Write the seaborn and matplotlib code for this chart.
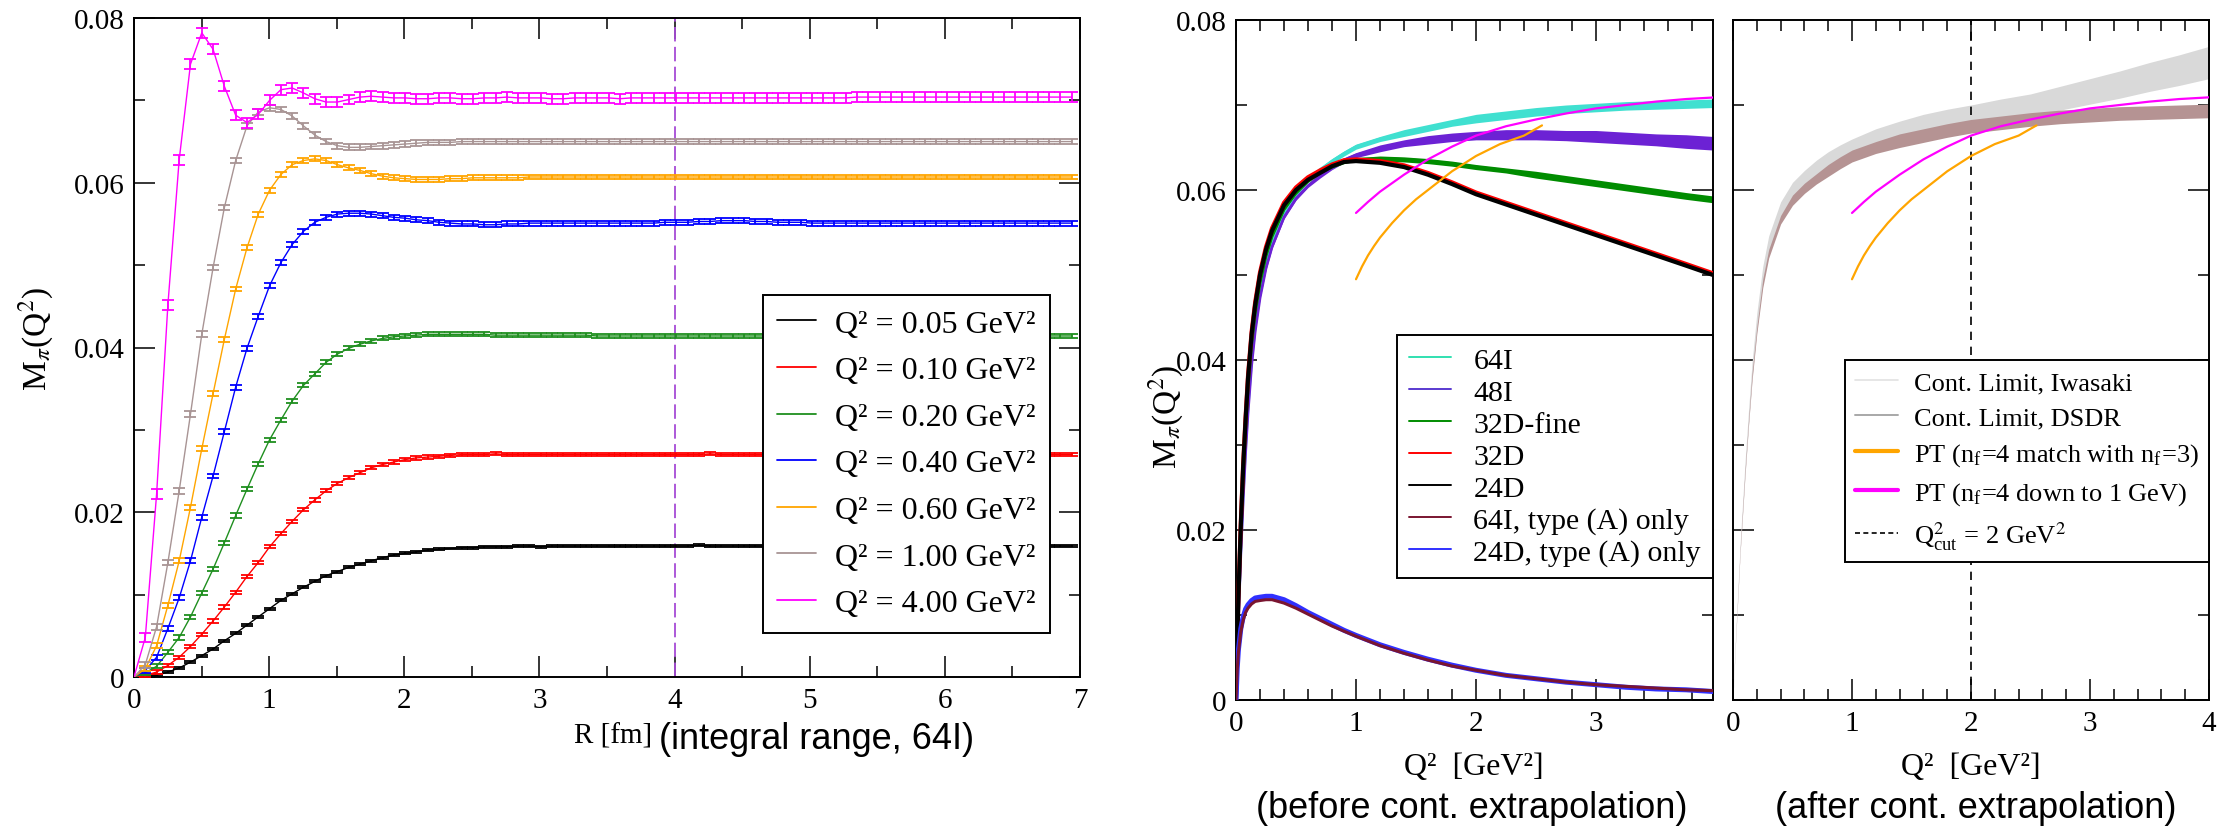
import numpy as np
import matplotlib
matplotlib.use("Agg")
import matplotlib.pyplot as plt
import matplotlib.font_manager as fm
from matplotlib.lines import Line2D
from matplotlib.ticker import MultipleLocator, FuncFormatter
import seaborn as sns

# ---------------------------------------------------------------------------
# Left panel: M_pi(Q^2) as a function of the integration cut-off R (64I)
# ---------------------------------------------------------------------------
LATTICE_SPACING_64I = 0.0836          # fm
R_FM = np.arange(84) * LATTICE_SPACING_64I
R_CUT = 4.0                           # fm, chosen integral range

LEFT_Q2 = ["0.05", "0.10", "0.20", "0.40", "0.60", "1.00", "4.00"]
LEFT_COLORS = ["#000000", "#ff0000", "#1f8f1f", "#0000ff", "#ffa500", "#a89494", "#ff00ff"]
LEFT_ERR = [0.00012, 0.0002, 0.00025, 0.0003, 0.0003, 0.00035, 0.0006]

M_Q005 = [0.0000, 0.0001, 0.0002, 0.0006, 0.0011, 0.0018, 0.0026, 0.0034, 0.0044, 0.0053, 0.0063, 0.0073,
          0.0083, 0.0093, 0.0101, 0.0109, 0.0116, 0.0123, 0.0128, 0.0133, 0.0137, 0.0141, 0.0145, 0.0148,
          0.0150, 0.0152, 0.0154, 0.0155, 0.0156, 0.0157, 0.0157, 0.0158, 0.0158, 0.0158, 0.0159, 0.0159,
          0.0158, 0.0159, 0.0159, 0.0159, 0.0159, 0.0159, 0.0159, 0.0159, 0.0159, 0.0159, 0.0159, 0.0159,
          0.0159, 0.0159, 0.0160, 0.0159, 0.0159, 0.0159, 0.0159, 0.0159, 0.0159, 0.0160, 0.0159, 0.0159,
          0.0159, 0.0159, 0.0159, 0.0159, 0.0159, 0.0159, 0.0159, 0.0159, 0.0159, 0.0159, 0.0159, 0.0159,
          0.0159, 0.0159, 0.0159, 0.0159, 0.0159, 0.0160, 0.0160, 0.0159, 0.0159, 0.0159, 0.0159, 0.0159]
M_Q010 = [0.0000, 0.0002, 0.0006, 0.0014, 0.0024, 0.0037, 0.0052, 0.0068, 0.0085, 0.0103, 0.0122, 0.0139,
          0.0158, 0.0174, 0.0189, 0.0203, 0.0215, 0.0226, 0.0235, 0.0242, 0.0248, 0.0254, 0.0258, 0.0261,
          0.0264, 0.0266, 0.0267, 0.0268, 0.0269, 0.0270, 0.0270, 0.0270, 0.0271, 0.0270, 0.0270, 0.0270,
          0.0270, 0.0270, 0.0270, 0.0270, 0.0270, 0.0270, 0.0270, 0.0270, 0.0270, 0.0270, 0.0270, 0.0270,
          0.0270, 0.0270, 0.0270, 0.0271, 0.0270, 0.0270, 0.0270, 0.0270, 0.0270, 0.0270, 0.0270, 0.0270,
          0.0270, 0.0270, 0.0270, 0.0270, 0.0270, 0.0270, 0.0270, 0.0270, 0.0270, 0.0270, 0.0270, 0.0270,
          0.0270, 0.0270, 0.0270, 0.0270, 0.0270, 0.0270, 0.0271, 0.0270, 0.0270, 0.0270, 0.0270, 0.0270]
M_Q020 = [0.0000, 0.0005, 0.0013, 0.0030, 0.0048, 0.0073, 0.0102, 0.0131, 0.0163, 0.0196, 0.0228, 0.0259,
          0.0288, 0.0312, 0.0335, 0.0354, 0.0368, 0.0382, 0.0392, 0.0399, 0.0404, 0.0408, 0.0411, 0.0413,
          0.0414, 0.0415, 0.0416, 0.0416, 0.0416, 0.0416, 0.0416, 0.0416, 0.0415, 0.0415, 0.0415, 0.0415,
          0.0415, 0.0415, 0.0415, 0.0415, 0.0415, 0.0414, 0.0414, 0.0414, 0.0414, 0.0414, 0.0414, 0.0414,
          0.0414, 0.0414, 0.0414, 0.0414, 0.0414, 0.0414, 0.0414, 0.0414, 0.0414, 0.0414, 0.0414, 0.0414,
          0.0414, 0.0414, 0.0414, 0.0414, 0.0414, 0.0414, 0.0414, 0.0414, 0.0414, 0.0414, 0.0414, 0.0414,
          0.0414, 0.0414, 0.0414, 0.0414, 0.0414, 0.0414, 0.0414, 0.0414, 0.0414, 0.0414, 0.0414, 0.0414]
M_Q040 = [0.0000, 0.0008, 0.0024, 0.0059, 0.0096, 0.0141, 0.0194, 0.0244, 0.0298, 0.0352, 0.0399, 0.0438,
          0.0475, 0.0503, 0.0525, 0.0541, 0.0552, 0.0558, 0.0562, 0.0563, 0.0563, 0.0562, 0.0560, 0.0558,
          0.0557, 0.0555, 0.0554, 0.0552, 0.0551, 0.0550, 0.0550, 0.0549, 0.0549, 0.0550, 0.0550, 0.0551,
          0.0551, 0.0551, 0.0551, 0.0551, 0.0551, 0.0551, 0.0551, 0.0551, 0.0551, 0.0551, 0.0551, 0.0552,
          0.0552, 0.0552, 0.0553, 0.0553, 0.0554, 0.0554, 0.0554, 0.0553, 0.0553, 0.0552, 0.0552, 0.0552,
          0.0551, 0.0551, 0.0551, 0.0551, 0.0551, 0.0551, 0.0551, 0.0551, 0.0551, 0.0551, 0.0551, 0.0551,
          0.0551, 0.0551, 0.0551, 0.0551, 0.0551, 0.0551, 0.0551, 0.0551, 0.0551, 0.0551, 0.0551, 0.0551]
M_Q060 = [0.0000, 0.0010, 0.0038, 0.0087, 0.0141, 0.0206, 0.0277, 0.0344, 0.0410, 0.0471, 0.0521, 0.0562,
          0.0591, 0.0610, 0.0622, 0.0627, 0.0629, 0.0627, 0.0622, 0.0618, 0.0615, 0.0611, 0.0608, 0.0606,
          0.0605, 0.0604, 0.0604, 0.0604, 0.0605, 0.0605, 0.0606, 0.0606, 0.0606, 0.0606, 0.0606, 0.0607,
          0.0607, 0.0607, 0.0607, 0.0607, 0.0607, 0.0607, 0.0607, 0.0607, 0.0607, 0.0607, 0.0607, 0.0607,
          0.0607, 0.0607, 0.0607, 0.0607, 0.0607, 0.0607, 0.0607, 0.0607, 0.0607, 0.0607, 0.0607, 0.0607,
          0.0607, 0.0607, 0.0607, 0.0607, 0.0607, 0.0607, 0.0607, 0.0607, 0.0607, 0.0607, 0.0607, 0.0607,
          0.0607, 0.0607, 0.0607, 0.0607, 0.0607, 0.0607, 0.0607, 0.0607, 0.0607, 0.0607, 0.0607, 0.0607]
M_Q100 = [0.0000, 0.0015, 0.0061, 0.0139, 0.0226, 0.0319, 0.0416, 0.0497, 0.0570, 0.0627, 0.0669, 0.0686,
          0.0691, 0.0689, 0.0681, 0.0669, 0.0658, 0.0650, 0.0645, 0.0643, 0.0643, 0.0644, 0.0645, 0.0646,
          0.0647, 0.0648, 0.0649, 0.0649, 0.0649, 0.0650, 0.0650, 0.0650, 0.0650, 0.0650, 0.0650, 0.0650,
          0.0650, 0.0650, 0.0650, 0.0650, 0.0650, 0.0650, 0.0650, 0.0650, 0.0650, 0.0650, 0.0650, 0.0650,
          0.0650, 0.0650, 0.0650, 0.0650, 0.0650, 0.0650, 0.0650, 0.0650, 0.0650, 0.0650, 0.0650, 0.0650,
          0.0650, 0.0650, 0.0650, 0.0650, 0.0650, 0.0650, 0.0650, 0.0650, 0.0650, 0.0650, 0.0650, 0.0650,
          0.0650, 0.0650, 0.0650, 0.0650, 0.0650, 0.0650, 0.0650, 0.0650, 0.0650, 0.0650, 0.0650, 0.0650]
M_Q400 = [0.0000, 0.0048, 0.0222, 0.0452, 0.0628, 0.0744, 0.0782, 0.0762, 0.0717, 0.0682, 0.0673, 0.0683,
          0.0700, 0.0713, 0.0715, 0.0709, 0.0702, 0.0698, 0.0698, 0.0701, 0.0704, 0.0705, 0.0704, 0.0703,
          0.0703, 0.0702, 0.0702, 0.0703, 0.0703, 0.0702, 0.0702, 0.0703, 0.0703, 0.0704, 0.0703, 0.0703,
          0.0703, 0.0702, 0.0702, 0.0703, 0.0703, 0.0703, 0.0703, 0.0702, 0.0703, 0.0703, 0.0703, 0.0703,
          0.0703, 0.0703, 0.0703, 0.0703, 0.0703, 0.0703, 0.0703, 0.0703, 0.0703, 0.0703, 0.0703, 0.0703,
          0.0703, 0.0703, 0.0703, 0.0703, 0.0704, 0.0704, 0.0704, 0.0704, 0.0704, 0.0704, 0.0704, 0.0704,
          0.0704, 0.0704, 0.0704, 0.0704, 0.0704, 0.0704, 0.0704, 0.0704, 0.0704, 0.0704, 0.0704, 0.0704]
LEFT_SERIES = [M_Q005, M_Q010, M_Q020, M_Q040, M_Q060, M_Q100, M_Q400]

# ---------------------------------------------------------------------------
# Middle panel: per-ensemble M_pi(Q^2) before the continuum extrapolation
# ---------------------------------------------------------------------------
Q2_GRID = [0.0, 0.01, 0.02, 0.04, 0.06, 0.08, 0.10, 0.13, 0.16, 0.20, 0.25, 0.30, 0.40, 0.50, 0.60, 0.70,
           0.80, 0.90, 1.00, 1.20, 1.40, 1.60, 1.80, 2.00, 2.25, 2.50, 2.75, 3.00, 3.25, 3.50, 3.75, 3.975]

ENS_64I = [0.0, 0.0052, 0.0098, 0.0177, 0.0243, 0.0298, 0.0344, 0.0399, 0.0439, 0.0478, 0.0512, 0.0537,
           0.0572, 0.0595, 0.0611, 0.0624, 0.0634, 0.0643, 0.0651, 0.0660, 0.0667, 0.0673, 0.0679, 0.0684,
           0.0688, 0.0692, 0.0695, 0.0697, 0.0699, 0.0700, 0.0701, 0.0702]
ERR_64I = [0.0, 0.0, 0.0, 0.0, 0.0001, 0.0001, 0.0001, 0.0001, 0.0001, 0.0001, 0.0002, 0.0002,
           0.0002, 0.0002, 0.0002, 0.0002, 0.0003, 0.0003, 0.0003, 0.0003, 0.0004, 0.0004, 0.0004, 0.0005,
           0.0005, 0.0005, 0.0005, 0.0005, 0.0005, 0.0005, 0.0005, 0.0005]
ENS_48I = [0.0, 0.0050, 0.0095, 0.0172, 0.0237, 0.0292, 0.0338, 0.0394, 0.0434, 0.0473, 0.0508, 0.0533,
           0.0568, 0.0590, 0.0605, 0.0617, 0.0627, 0.0635, 0.0641, 0.0649, 0.0655, 0.0659, 0.0662, 0.0664,
           0.0665, 0.0665, 0.0664, 0.0663, 0.0661, 0.0659, 0.0657, 0.0655]
ERR_48I = [0.0, 0.0, 0.0, 0.0, 0.0001, 0.0001, 0.0001, 0.0001, 0.0001, 0.0001, 0.0002, 0.0002,
           0.0002, 0.0002, 0.0002, 0.0003, 0.0003, 0.0003, 0.0003, 0.0004, 0.0004, 0.0005, 0.0005, 0.0005,
           0.0006, 0.0006, 0.0006, 0.0007, 0.0007, 0.0007, 0.0008, 0.0008]
ENS_32DF = [0.0, 0.0060, 0.0112, 0.0195, 0.0263, 0.0318, 0.0365, 0.0418, 0.0455, 0.0490, 0.0522, 0.0545,
            0.0577, 0.0597, 0.0611, 0.0621, 0.0628, 0.0633, 0.0636, 0.0637, 0.0636, 0.0634, 0.0631, 0.0627,
            0.0623, 0.0618, 0.0613, 0.0608, 0.0603, 0.0598, 0.0593, 0.0589]
ERR_32DF = [0.0, 0.0, 0.0, 0.0, 0.0, 0.0, 0.0, 0.0, 0.0, 0.0001, 0.0001, 0.0001,
            0.0001, 0.0002, 0.0002, 0.0002, 0.0002, 0.0002, 0.0002, 0.0003, 0.0003, 0.0003, 0.0003, 0.0003,
            0.0003, 0.0004, 0.0004, 0.0004, 0.0004, 0.0004, 0.0004, 0.0004]
ENS_32D = [0.0, 0.0066, 0.0122, 0.0208, 0.0278, 0.0333, 0.0381, 0.0433, 0.0468, 0.0503, 0.0533, 0.0555,
           0.0585, 0.0603, 0.0615, 0.0623, 0.0630, 0.0635, 0.0636, 0.0634, 0.0629, 0.0620, 0.0609, 0.0597,
           0.0585, 0.0573, 0.0561, 0.0549, 0.0537, 0.0525, 0.0513, 0.0502]
ENS_24D = [0.0, 0.0065, 0.0120, 0.0205, 0.0275, 0.0330, 0.0378, 0.0430, 0.0465, 0.0500, 0.0530, 0.0552,
           0.0582, 0.0600, 0.0612, 0.0620, 0.0628, 0.0633, 0.0634, 0.0632, 0.0627, 0.0618, 0.0607, 0.0595,
           0.0583, 0.0571, 0.0559, 0.0547, 0.0535, 0.0523, 0.0511, 0.0500]
ENS_64I_A = [0.0, 0.0035, 0.0056, 0.0080, 0.0094, 0.0103, 0.0108, 0.0113, 0.0116, 0.0117, 0.0118, 0.0118,
             0.0114, 0.0108, 0.0101, 0.0094, 0.0087, 0.0081, 0.0075, 0.0064, 0.0055, 0.0047, 0.0040, 0.0035,
             0.0029, 0.0025, 0.0021, 0.0018, 0.0016, 0.0014, 0.0012, 0.0011]
ENS_24D_A = [0.0, 0.0037, 0.0059, 0.0084, 0.0098, 0.0107, 0.0112, 0.0117, 0.0120, 0.0121, 0.0122, 0.0122,
             0.0118, 0.0111, 0.0103, 0.0096, 0.0089, 0.0082, 0.0076, 0.0065, 0.0056, 0.0048, 0.0041, 0.0035,
             0.0029, 0.0025, 0.0021, 0.0018, 0.0015, 0.0013, 0.0012, 0.0010]

# ---------------------------------------------------------------------------
# Right panel: continuum limits
# ---------------------------------------------------------------------------
Q2_CL = [0.0, 0.01, 0.02, 0.04, 0.06, 0.08, 0.10, 0.13, 0.16, 0.20, 0.25, 0.30, 0.40, 0.50, 0.60, 0.70,
         0.80, 0.90, 1.00, 1.20, 1.40, 1.60, 1.80, 2.00, 2.25, 2.50, 2.75, 3.00, 3.25, 3.50, 3.75, 4.00]
CL_IWASAKI = [0.0, 0.0036, 0.0067, 0.0123, 0.0179, 0.0225, 0.0271, 0.0332, 0.0388, 0.0445, 0.0500, 0.0535,
              0.0575, 0.0598, 0.0612, 0.0623, 0.0633, 0.0641, 0.0648, 0.0660, 0.0669, 0.0677, 0.0683, 0.0688,
              0.0694, 0.0700, 0.0708, 0.0716, 0.0724, 0.0733, 0.0741, 0.0750]
CL_IWASAKI_ERR = [0.0, 0.0002, 0.0003, 0.0004, 0.0005, 0.0006, 0.0007, 0.0008, 0.0009, 0.0010, 0.0010, 0.0011,
                  0.0011, 0.0011, 0.0011, 0.0012, 0.0012, 0.0012, 0.0012, 0.0012, 0.0012, 0.0012, 0.0012, 0.0012,
                  0.0013, 0.0013, 0.0014, 0.0015, 0.0016, 0.0017, 0.0018, 0.0019]
CL_DSDR = [0.0, 0.0035, 0.0065, 0.0120, 0.0175, 0.0220, 0.0265, 0.0325, 0.0380, 0.0435, 0.0490, 0.0525,
           0.0565, 0.0588, 0.0602, 0.0613, 0.0623, 0.0632, 0.0640, 0.0650, 0.0658, 0.0664, 0.0670, 0.0675,
           0.0679, 0.0683, 0.0686, 0.0688, 0.0690, 0.0691, 0.0692, 0.0693]
CL_DSDR_ERR = [0.0, 0.0001, 0.0001, 0.0002, 0.0002, 0.0003, 0.0003, 0.0003, 0.0004, 0.0004, 0.0005, 0.0005,
               0.0005, 0.0006, 0.0006, 0.0006, 0.0007, 0.0007, 0.0007, 0.0007, 0.0008, 0.0008, 0.0008, 0.0008,
               0.0008, 0.0008, 0.0008, 0.0008, 0.0008, 0.0008, 0.0008, 0.0008]

# Perturbative curves (shown in both right-hand panels)
PT_DOWN_Q2 = [1.0, 1.1, 1.2, 1.3, 1.4, 1.5, 1.6, 1.8, 2.0, 2.25, 2.5, 2.75, 3.0, 3.25, 3.5, 3.75, 4.0]
PT_DOWN = [0.0573, 0.0586, 0.0598, 0.0608, 0.0618, 0.0627, 0.0636, 0.0651, 0.0664, 0.0675, 0.0683, 0.0690,
           0.0696, 0.0700, 0.0704, 0.0707, 0.0709]
PT_MATCH_Q2 = [1.0, 1.05, 1.1, 1.15, 1.2, 1.3, 1.4, 1.5, 1.6, 1.8, 2.0, 2.2, 2.4, 2.55, 2.55]
PT_MATCH = [0.0495, 0.0510, 0.0523, 0.0534, 0.0544, 0.0561, 0.0576, 0.0589, 0.0600, 0.0622, 0.0640, 0.0654,
            0.0664, 0.0670, 0.0682]
Q2_CUT = 2.0

# ---------------------------------------------------------------------------
# Style
# ---------------------------------------------------------------------------
sns.set_theme(style="ticks")
plt.rcParams.update({
    "figure.facecolor": "white", "axes.facecolor": "white", "savefig.facecolor": "white",
    "axes.edgecolor": "black", "axes.linewidth": 1.4,
    "xtick.color": "black", "ytick.color": "black",
    "text.color": "black", "axes.labelcolor": "black",
    "mathtext.fontset": "stix",
})
plt.rcParams["font.family"] = ["Liberation Serif", "DejaVu Serif"]

_installed = {f.name for f in fm.fontManager.ttflist}
if "Liberation Sans Narrow" in _installed:
    CAPTION_FONT, CAPTION_SIZE = ["Liberation Sans Narrow", "DejaVu Sans"], 31
else:
    CAPTION_FONT, CAPTION_SIZE = ["Liberation Sans", "DejaVu Sans"], 26

W, H = 2225, 828
fig = plt.figure(figsize=(W / 100, H / 100), dpi=100)


def axes_px(x0, y0, x1, y1):
    return fig.add_axes([x0 / W, 1 - y1 / H, (x1 - x0) / W, (y1 - y0) / H])


def style_axes(ax, xmaj, xmin, xlim, ylabels=True):
    ax.set_xlim(*xlim)
    ax.set_ylim(0, 0.08)
    for s in ax.spines.values():
        s.set_visible(True)
        s.set_linewidth(1.4)
        s.set_color("black")
    ax.xaxis.set_major_locator(MultipleLocator(xmaj))
    ax.xaxis.set_minor_locator(MultipleLocator(xmin))
    ax.yaxis.set_major_locator(MultipleLocator(0.02))
    ax.yaxis.set_minor_locator(MultipleLocator(0.01))
    ax.tick_params(which="both", direction="in", top=True, right=True, bottom=True, left=True,
                   width=1.1, labelsize=21, pad=7)
    ax.tick_params(which="major", length=15)
    ax.tick_params(which="minor", length=8)
    ax.xaxis.set_major_formatter(FuncFormatter(lambda v, p: f"{v:g}"))
    if ylabels:
        ax.yaxis.set_major_formatter(FuncFormatter(lambda v, p: "0" if abs(v) < 1e-12 else f"{v:.2f}"))
    else:
        ax.tick_params(axis="y", labelleft=False)
    ax.set_xlabel("")
    ax.set_ylabel("")
    ax.grid(False)


def legend_box(leg):
    fr = leg.get_frame()
    fr.set_edgecolor("black")
    fr.set_linewidth(1.4)
    fr.set_alpha(1.0)
    fr.set_facecolor("white")


ax_r = axes_px(134, 19, 1080, 678)
ax_b = axes_px(1236, 21, 1713, 701)
ax_a = axes_px(1733, 21, 2209, 701)

# ---- left: R dependence --------------------------------------------------
ax_r.axvline(R_CUT, color="#a64bd6", lw=1.3, ls=(0, (8, 3)), zorder=1)
for vals, col, err in zip(LEFT_SERIES, LEFT_COLORS, LEFT_ERR):
    v = np.asarray(vals)
    sns.lineplot(x=R_FM, y=v, ax=ax_r, color=col, lw=1.0, errorbar=None, legend=False, zorder=3)
    ax_r.errorbar(R_FM[1:], v[1:], yerr=err, fmt="none", ecolor=col, elinewidth=1.3,
                  capsize=4.5, capthick=1.3, zorder=3)
style_axes(ax_r, 1, 0.5, (0, 7))
ax_r.set_ylabel(r"M$_{\pi}$(Q$^{2}$)", fontsize=24)
ax_r.yaxis.set_label_coords(-0.082, 0.515)

left_handles = [Line2D([], [], color=c, lw=1.3) for c in LEFT_COLORS]
left_labels = [f"Q² = {q} GeV²" for q in LEFT_Q2]
leg = ax_r.legend(left_handles, left_labels, loc="upper left", bbox_to_anchor=(0.665, 0.580),
                  borderaxespad=0, frameon=True, fancybox=False, fontsize=23,
                  handlelength=1.2, handletextpad=0.6, borderpad=0.45, labelspacing=0.54)
legend_box(leg)

# ---- middle: individual ensembles ----------------------------------------
q = np.asarray(Q2_GRID)
for cen, err, col in [(ENS_64I, ERR_64I, "#40e0d0"), (ENS_48I, ERR_48I, "#6c22d4"),
                      (ENS_32DF, ERR_32DF, "#008c00")]:
    c, e = np.asarray(cen), np.asarray(err)
    ax_b.fill_between(q, c - e, c + e, color=col, lw=0, zorder=2)
    sns.lineplot(x=q, y=c, ax=ax_b, color=col, lw=2.0, errorbar=None, legend=False, zorder=2)
sns.lineplot(x=q, y=ENS_32D, ax=ax_b, color="#ff0000", lw=3.0, errorbar=None, legend=False, zorder=3)
sns.lineplot(x=q, y=ENS_24D, ax=ax_b, color="#000000", lw=3.0, errorbar=None, legend=False, zorder=3)
sns.lineplot(x=q, y=ENS_24D_A, ax=ax_b, color="#3030ff", lw=3.6, errorbar=None, legend=False, zorder=3)
sns.lineplot(x=q, y=ENS_64I_A, ax=ax_b, color="#7a1530", lw=2.2, errorbar=None, legend=False, zorder=3)
for ax in (ax_b, ax_a):
    sns.lineplot(x=PT_MATCH_Q2, y=PT_MATCH, ax=ax, color="#ffa500", lw=1.6, errorbar=None,
                 legend=False, sort=False, zorder=4)
    sns.lineplot(x=PT_DOWN_Q2, y=PT_DOWN, ax=ax, color="#ff00ff", lw=1.6, errorbar=None,
                 legend=False, zorder=4)
style_axes(ax_b, 1, 0.2, (0, 3.975))
ax_b.set_ylabel(r"M$_{\pi}$(Q$^{2}$)", fontsize=24)
ax_b.yaxis.set_label_coords(-0.105, 0.418)

mid_colors = ["#30e0b0", "#5a3ad0", "#008c00", "#ff0000", "#000000", "#7a1530", "#3030ff"]
mid_labels = ["64I", "48I", "32D-fine", "32D", "24D", "64I, type (A) only", "24D, type (A) only"]
mid_handles = [Line2D([], [], color=c, lw=1.4) for c in mid_colors]
leg = ax_b.legend(mid_handles, mid_labels, loc="upper right", bbox_to_anchor=(1.0, 0.537),
                  borderaxespad=0, frameon=True, fancybox=False, fontsize=21.5,
                  handlelength=1.4, handletextpad=0.75, borderpad=0.4, labelspacing=0.17)
legend_box(leg)

# ---- right: continuum limits ---------------------------------------------
qc = np.asarray(Q2_CL)
ci, ei = np.asarray(CL_IWASAKI), np.asarray(CL_IWASAKI_ERR)
cd, ed = np.asarray(CL_DSDR), np.asarray(CL_DSDR_ERR)
ax_a.fill_between(qc, ci - ei, ci + ei, color="#d9d9d9", lw=0, zorder=1)
ax_a.fill_between(qc, cd - ed, cd + ed, color="#b59393", lw=0, zorder=2)
ax_a.axvline(Q2_CUT, color="black", lw=1.2, ls=(0, (5, 4)), zorder=1.5)
style_axes(ax_a, 1, 0.2, (0, 4), ylabels=False)

right_handles = [Line2D([], [], color="#e2e2e2", lw=1.2),
                 Line2D([], [], color="#a8a8a8", lw=1.4),
                 Line2D([], [], color="#ffa500", lw=3.0),
                 Line2D([], [], color="#ff00ff", lw=3.0),
                 Line2D([], [], color="black", lw=1.2, ls=(0, (3, 2)))]
right_labels = ["Cont. Limit, Iwasaki", "Cont. Limit, DSDR",
                r"PT (n$_\mathregular{f}$=4 match with n$_\mathregular{f}$=3)",
                r"PT (n$_\mathregular{f}$=4 down to 1 GeV)",
                r"Q$^{2}_\mathregular{cut}$ = 2 GeV$^{2}$"]
leg = ax_a.legend(right_handles, right_labels, loc="upper right", bbox_to_anchor=(1.0, 0.5),
                  borderaxespad=0, frameon=True, fancybox=False, fontsize=19,
                  handlelength=1.6, handletextpad=0.6, borderpad=0.4, labelspacing=0.45)
legend_box(leg)

# ---- axis captions -------------------------------------------------------
def ftext(x, y, s, **kw):
    fig.text(x / W, 1 - y / H, s, **kw)

ftext(652, 737, "R [fm]", ha="right", va="center", fontsize=21)
ftext(659, 740, "(integral range, 64I)", ha="left", va="center", fontsize=CAPTION_SIZE, family=CAPTION_FONT)
ftext(1474, 768, "Q²  [GeV²]", ha="center", va="center", fontsize=23)
ftext(1472, 809, "(before cont. extrapolation)", ha="center", va="center",
      fontsize=CAPTION_SIZE, family=CAPTION_FONT)
ftext(1971, 768, "Q²  [GeV²]", ha="center", va="center", fontsize=23)
ftext(1976, 809, "(after cont. extrapolation)", ha="center", va="center",
      fontsize=CAPTION_SIZE, family=CAPTION_FONT)

fig.savefig("out.png", dpi=100)
